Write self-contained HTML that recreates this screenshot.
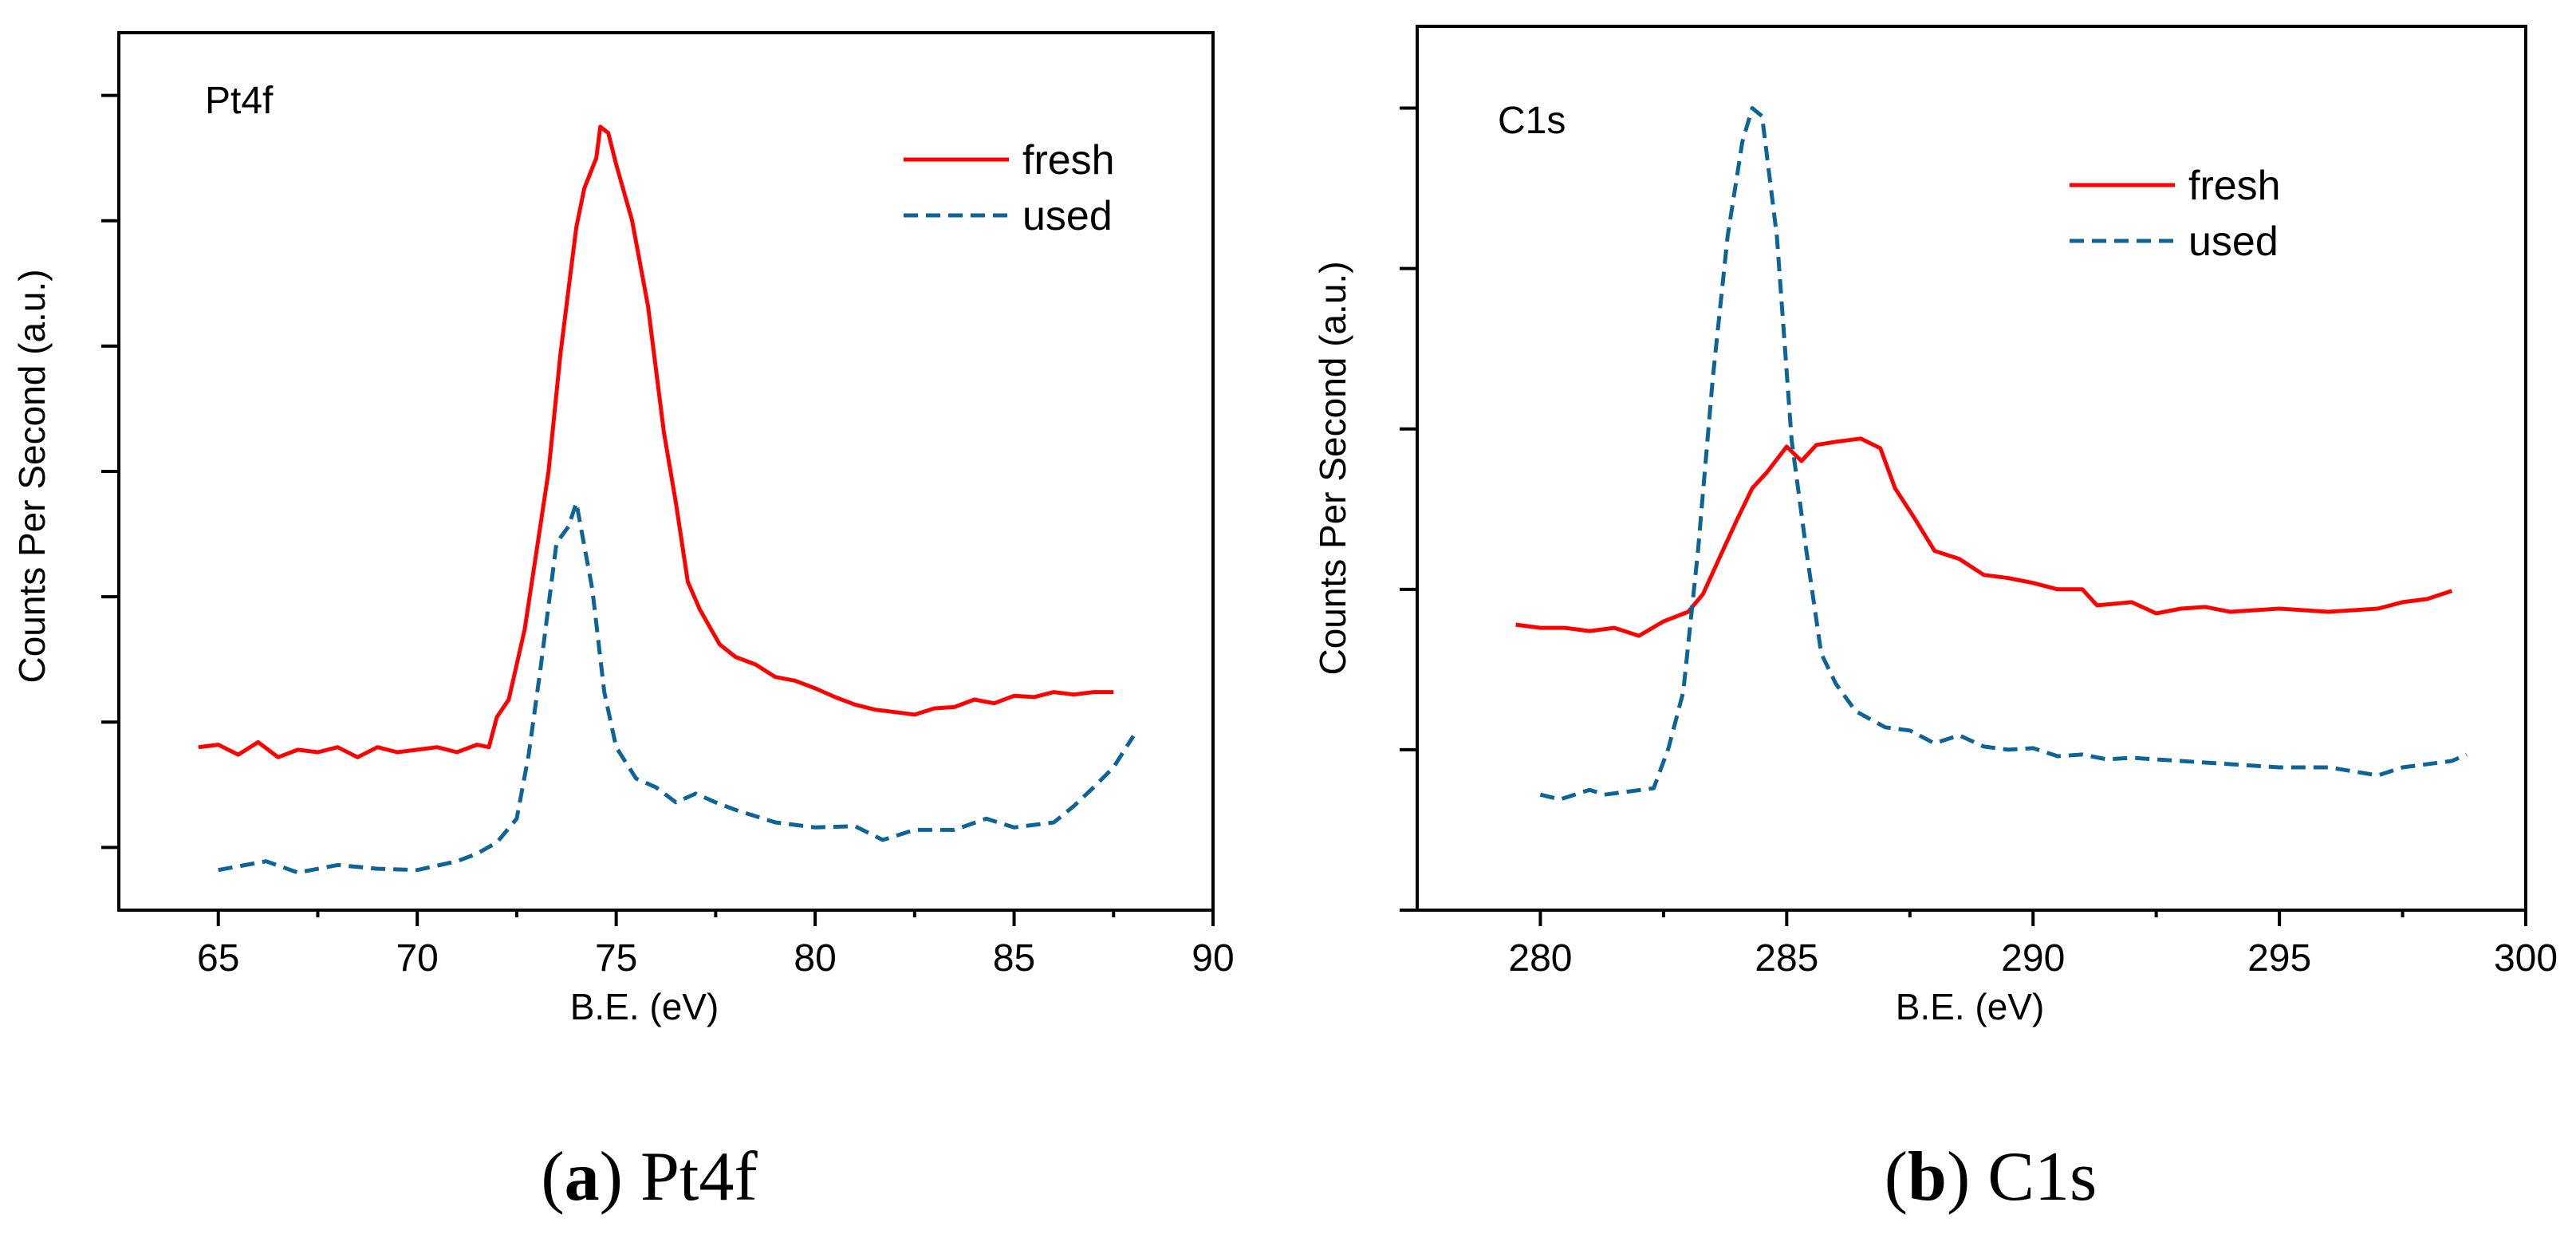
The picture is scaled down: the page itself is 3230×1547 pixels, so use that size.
<!DOCTYPE html>
<html><head><meta charset="utf-8"><style>
html,body{margin:0;padding:0;background:#fff;width:3230px;height:1547px;overflow:hidden}
svg text{font-family:"Liberation Sans",sans-serif;fill:#000}
</style></head><body>
<svg id="fig" width="3230" height="1547" xmlns="http://www.w3.org/2000/svg"></svg>
<script>
const ptX=[64.5,65,65.5,66,66.5,67,67.5,68,68.5,69,69.5,70,70.5,71,71.5,71.8,72,72.3,72.7,73,73.3,73.6,73.8,74,74.2,74.5,74.6,74.8,75,75.4,75.8,76.2,76.5,76.8,77.1,77.6,78,78.5,79,79.5,80,80.5,81,81.5,82,82.5,83,83.5,84,84.5,85,85.5,86,86.5,87,87.5];
const ptFresh=[0.8,0.82,0.74,0.84,0.72,0.78,0.76,0.8,0.72,0.8,0.76,0.78,0.8,0.76,0.82,0.8,1.04,1.18,1.74,2.37,3.0,3.94,4.45,4.95,5.26,5.5,5.75,5.7,5.45,5.0,4.32,3.31,2.75,2.12,1.9,1.62,1.52,1.46,1.36,1.33,1.27,1.2,1.14,1.1,1.08,1.06,1.11,1.12,1.18,1.15,1.21,1.2,1.24,1.22,1.24,1.24];
const ptUsedX=[65,66.2,67,68,69,70,71,71.5,72,72.5,72.8,73.1,73.5,73.8,74,74.4,74.7,75,75.5,76,76.5,77,77.5,78,79,80,81,81.7,82.5,83.5,84.3,85,86,86.5,87,87.5,88];
const ptUsed=[-0.18,-0.11,-0.2,-0.14,-0.17,-0.18,-0.11,-0.05,0.04,0.23,0.74,1.43,2.43,2.56,2.75,2.06,1.24,0.8,0.55,0.48,0.36,0.43,0.36,0.3,0.2,0.16,0.17,0.06,0.14,0.14,0.23,0.16,0.2,0.33,0.48,0.64,0.89];
const cX=[279.5,280,280.5,281,281.5,282,282.5,283,283.3,283.7,284,284.3,284.6,285,285.3,285.6,286,286.5,286.9,287.2,287.6,288,288.5,289,289.5,290,290.5,291,291.3,292,292.5,293,293.5,294,294.5,295,295.5,296,296.5,297,297.5,298,298.5];
const cFresh=[1.78,1.76,1.76,1.74,1.76,1.71,1.8,1.86,1.97,2.24,2.44,2.63,2.73,2.89,2.8,2.9,2.92,2.94,2.88,2.63,2.44,2.24,2.19,2.09,2.07,2.04,2.0,2.0,1.9,1.92,1.85,1.88,1.89,1.86,1.87,1.88,1.87,1.86,1.87,1.88,1.92,1.94,1.99];
const cUsedX=[280,280.4,281,281.3,282.3,282.6,282.9,283.2,283.5,283.8,284.1,284.3,284.5,284.8,285.1,285.4,285.7,286,286.4,287,287.5,288,288.5,289,289.5,290,290.5,291,291.5,292,293,294,295,296,297,297.5,298.5,298.8];
const cUsed=[0.72,0.69,0.75,0.72,0.76,1.01,1.36,2.24,3.32,4.2,4.79,5.0,4.95,4.2,2.93,2.24,1.6,1.41,1.24,1.14,1.12,1.04,1.09,1.02,1.0,1.01,0.96,0.97,0.94,0.95,0.93,0.91,0.89,0.89,0.84,0.89,0.93,0.97];
const ptTicks=["65","70","75","80","85","90"];
const cTicks=["280","285","290","295","300"];

const NS="http://www.w3.org/2000/svg";
const svg=document.getElementById('fig');
function mk(tag,attrs,parent,text){const e=document.createElementNS(NS,tag);for(const k in attrs)e.setAttribute(k,attrs[k]);if(text!==undefined)e.textContent=text;(parent||svg).appendChild(e);return e;}

function panel(cfg){
  const g=mk('g',{});
  
  
  const sx=v=>cfg.L+(v-cfg.x0)/(cfg.x1-cfg.x0)*(cfg.R-cfg.L);
  const sy=v=>cfg.B-(v-cfg.y0)/(cfg.y1-cfg.y0)*(cfg.B-cfg.T);
  const frame=mk('rect',{x:cfg.L,y:cfg.T,width:cfg.R-cfg.L,height:cfg.B-cfg.T,fill:'none',stroke:'#000','stroke-width':4},g);
  
  
  cfg.xt.forEach(t=>{const v=+t;const x=sx(v);
    const l=mk('line',{x1:x,y1:cfg.B,x2:x,y2:cfg.B+20,stroke:'#000','stroke-width':4},g);
    
    
    const tx=mk('text',{x:x,y:1217,'font-size':48,'text-anchor':'middle'},g,t);
    
    
    const m=v-2.5; if(m>cfg.x0){const mx=sx(m);mk('line',{x1:mx,y1:cfg.B,x2:mx,y2:cfg.B+9,stroke:'#000','stroke-width':4},g);}
  });
  for(let k=0;k<=cfg.ny;k++){const y=sy(k);
    const l=mk('line',{x1:cfg.L-22,y1:y,x2:cfg.L,y2:y,stroke:'#000','stroke-width':4},g);
    
    
  }
  const yl=mk('text',{x:0,y:0,'font-size':46,'text-anchor':'middle',transform:`translate(${cfg.ylx},${cfg.yly}) rotate(-90)`},g,'Counts Per Second (a.u.)');
  
  
  const xl=mk('text',{x:cfg.xlx,y:1278,'font-size':46,'text-anchor':'middle'},g,'B.E. (eV)');
  
  
  const tt=mk('text',{x:cfg.tx,y:cfg.ty,'font-size':48},g,cfg.title);
  
  
  function series(xs,ys,color,dash,name){
    const d=xs.map((x,i)=>(i?'L':'M')+sx(x).toFixed(1)+','+sy(ys[i]).toFixed(1)).join('');
    const p=mk('path',{d:d,fill:'none',stroke:color,'stroke-width':5,'stroke-linejoin':'round'},g);
    if(dash)p.setAttribute('stroke-dasharray','18,10');
    
    
  }
  series(cfg.fx,cfg.fy,'#ff0000',false,'fresh-line');
  series(cfg.ux,cfg.uy,'#0e6496',true,'used-line');
  const lg=mk('g',{},g);
  
  
  mk('line',{x1:cfg.lgx,y1:cfg.lgy,x2:cfg.lgx+132,y2:cfg.lgy,stroke:'#ff0000','stroke-width':5},lg);
  const t1=mk('text',{x:cfg.lgx+149,y:cfg.lgy+18,'font-size':52},lg,'fresh');
  
  
  mk('line',{x1:cfg.lgx,y1:cfg.lgy+70,x2:cfg.lgx+132,y2:cfg.lgy+70,stroke:'#0e6496','stroke-width':5,'stroke-dasharray':'18,10'},lg);
  const t2=mk('text',{x:cfg.lgx+149,y:cfg.lgy+88,'font-size':52},lg,'used');
  
  
  const cap=mk('text',{x:cfg.capx,y:1504,'font-size':88,'text-anchor':'middle',style:'font-family:"Liberation Serif",serif'},g);
  
  
  mk('tspan',{},cap,'(');mk('tspan',{'font-weight':'bold'},cap,cfg.capL);mk('tspan',{},cap,') '+cfg.capT);
}
panel({name:'pt4f-panel',L:149,R:1521,T:41,B:1141,x0:62.5,x1:90,y0:-0.5,y1:6.5,ny:6,xt:ptTicks,
  ylx:56,yly:597,xlx:808,tx:257,ty:142,title:'Pt4f',fx:ptX,fy:ptFresh,ux:ptUsedX,uy:ptUsed,lgx:1133,lgy:200,capx:814,capL:'a',capT:'Pt4f'});
panel({name:'c1s-panel',L:1777,R:3167,T:33,B:1141,x0:277.5,x1:300,y0:0,y1:5.51,ny:5,xt:cTicks,
  ylx:1687,yly:587,xlx:2470,tx:1878,ty:167,title:'C1s',fx:cX,fy:cFresh,ux:cUsedX,uy:cUsed,lgx:2595,lgy:232,capx:2496,capL:'b',capT:'C1s'});
</script>
</body></html>
